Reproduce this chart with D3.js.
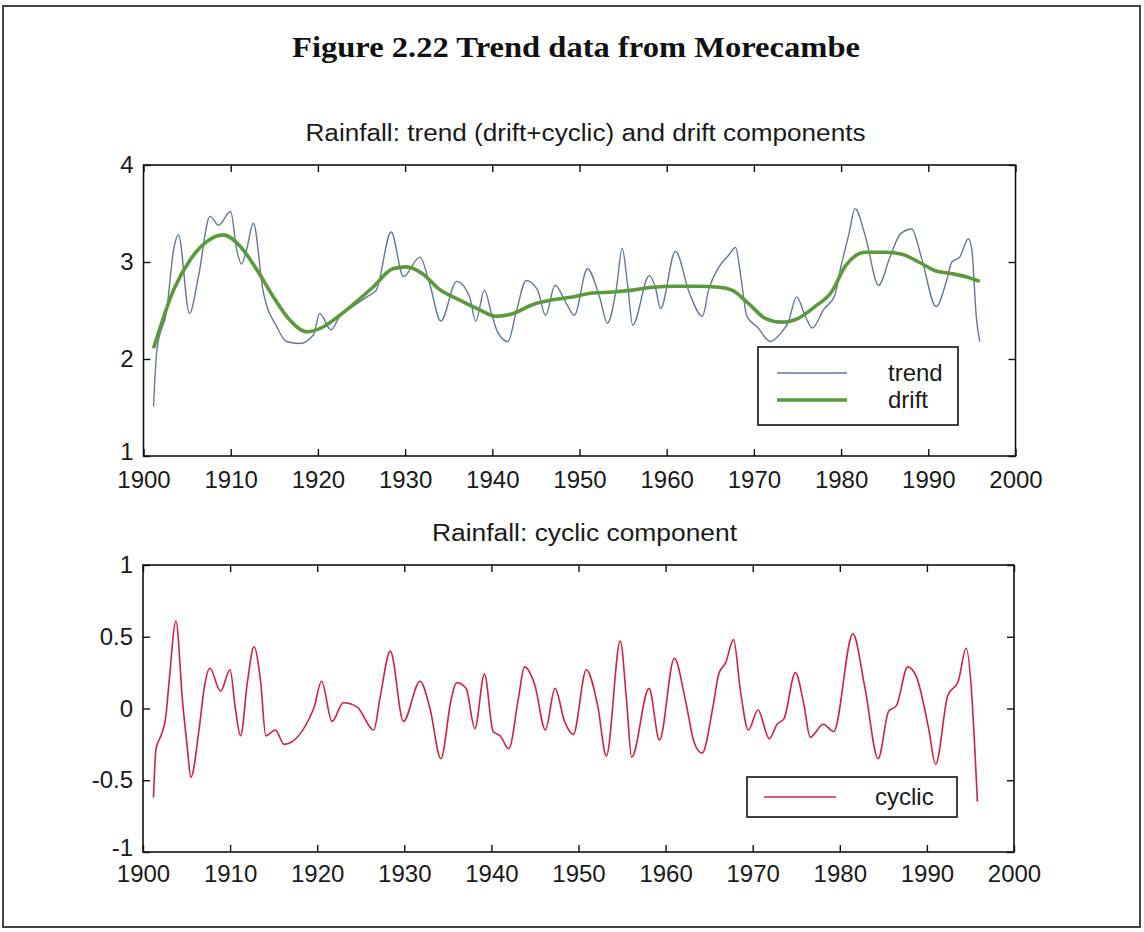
<!DOCTYPE html>
<html>
<head>
<meta charset="utf-8">
<script src="https://cdn.jsdelivr.net/npm/d3@7"></script>
<style>
  body { margin: 0; background: #fff; }
  svg { display: block; }
  .tick text { font-family: "Liberation Sans", Arial, sans-serif; font-size: 24px; fill: #1a1a1a; }
  .tick line { stroke: #111; stroke-width: 1.4; }
</style>
</head>
<body>
<div id="chart"></div>
<script>
var trendYears = [1901.15, 1901.53, 1902.67, 1903.44, 1904.01, 1905.27, 1906.3, 1907.63, 1908.6, 1909.99,
  1910.7, 1911.25, 1911.8, 1912.6, 1913.7, 1915.3, 1916.4, 1917.9, 1919.5, 1920.2,
  1921.5, 1922.5, 1924.0, 1925.6, 1926.7, 1928.4, 1929.8, 1931.7, 1932.8, 1934.1,
  1935.9, 1937.4, 1938.1, 1939.1, 1939.9, 1940.6, 1941.8, 1942.7, 1943.9, 1945.2,
  1946.1, 1947.2, 1948.5, 1949.4, 1950.9, 1952.3, 1953.2, 1954.2, 1954.9, 1955.5,
  1956.1, 1958.0, 1958.7, 1959.3, 1961.0, 1962.6, 1964.1, 1964.8, 1966.0, 1967.1,
  1967.9, 1968.5, 1969.2, 1970.4, 1971.9, 1973.2, 1973.9, 1974.9, 1975.9, 1976.7,
  1978.0, 1979.3, 1979.9, 1980.9, 1981.6, 1982.8, 1984.3, 1985.6, 1986.8, 1988.1,
  1989.2, 1990.9, 1992.1, 1992.7, 1993.6, 1994.6, 1995.0, 1995.5, 1995.9];
var trendValues = [1.51, 2.09, 2.51, 3.12, 3.28, 2.47, 2.85, 3.47, 3.38, 3.52,
  3.12, 2.98, 3.12, 3.40, 2.71, 2.33, 2.18, 2.16, 2.25, 2.47,
  2.30, 2.44, 2.54, 2.64, 2.71, 3.31, 2.85, 3.05, 2.78, 2.39,
  2.80, 2.64, 2.39, 2.71, 2.47, 2.28, 2.18, 2.47, 2.81, 2.71,
  2.45, 2.76, 2.57, 2.45, 2.93, 2.64, 2.37, 2.71, 3.14, 2.78,
  2.35, 2.86, 2.74, 2.52, 3.11, 2.68, 2.44, 2.71, 2.95, 3.07,
  3.15, 2.85, 2.44, 2.33, 2.18, 2.28, 2.37, 2.64, 2.44, 2.32,
  2.51, 2.66, 2.92, 3.29, 3.55, 3.26, 2.76, 3.05, 3.29, 3.34,
  3.05, 2.54, 2.81, 3.00, 3.05, 3.24, 3.12, 2.44, 2.18];

var driftYears = [1901.15, 1903.44, 1905.34, 1907.25, 1909.16, 1911.1, 1913.0, 1914.9, 1916.8, 1918.7,
  1920.6, 1922.5, 1924.4, 1926.3, 1928.6, 1930.1, 1932.0, 1933.9, 1936.2, 1938.5,
  1940.4, 1942.4, 1944.6, 1946.9, 1949.2, 1951.5, 1953.8, 1956.1, 1958.4, 1961.0,
  1963.3, 1966.0, 1967.5, 1969.4, 1971.3, 1973.2, 1975.1, 1977.0, 1978.9, 1980.5,
  1982.8, 1985.1, 1987.0, 1988.9, 1990.8, 1992.7, 1994.2, 1995.9];
var driftValues = [2.11, 2.71, 3.02, 3.21, 3.28, 3.16, 2.92, 2.64, 2.40, 2.28,
  2.33, 2.45, 2.59, 2.74, 2.93, 2.95, 2.88, 2.72, 2.61, 2.51,
  2.44, 2.47, 2.56, 2.61, 2.64, 2.68, 2.69, 2.71, 2.74, 2.75,
  2.75, 2.74, 2.71, 2.57, 2.42, 2.38, 2.42, 2.54, 2.69, 2.96,
  3.10, 3.10, 3.08, 3.00, 2.91, 2.88, 2.85, 2.80];

var cyclicYears = [1901.2, 1901.5, 1902.06, 1902.63, 1903.0, 1903.78, 1904.54, 1905.1, 1905.49, 1906.45,
  1907.02, 1907.67, 1908.9, 1910.0, 1910.6, 1911.2, 1912.0, 1912.74, 1913.5, 1914.1,
  1915.2, 1916.2, 1919.6, 1920.5, 1921.7, 1923.0, 1924.6, 1926.5, 1927.2, 1928.4,
  1929.9, 1931.8, 1932.95, 1934.2, 1935.4, 1936.0, 1937.1, 1938.1, 1939.2, 1940.2,
  1941.0, 1942.0, 1943.1, 1943.8, 1945.0, 1946.2, 1947.3, 1948.4, 1949.4, 1950.9,
  1952.2, 1953.2, 1954.8, 1955.5, 1956.1, 1958.1, 1959.3, 1961.0, 1962.3, 1963.3,
  1964.2, 1965.4, 1966.1, 1966.9, 1967.8, 1968.6, 1969.5, 1970.6, 1971.9, 1972.8,
  1973.6, 1974.9, 1975.9, 1976.6, 1978.1, 1979.3, 1981.5, 1982.9, 1984.4, 1985.6,
  1986.5, 1987.8, 1988.8, 1990.2, 1991.0, 1992.4, 1993.6, 1994.5, 1995.2, 1995.5,
  1995.8];
var cyclicValues = [-0.62, -0.28, -0.19, -0.05, 0.19, 0.61, 0.05, -0.28, -0.48, -0.14,
  0.14, 0.28, 0.12, 0.27, 0.0, -0.19, 0.19, 0.43, 0.19, -0.19,
  -0.15, -0.25, 0.0, 0.19, -0.09, 0.04, 0.01, -0.15, 0.07, 0.40,
  -0.09, 0.19, 0.0, -0.35, 0.07, 0.18, 0.14, -0.14, 0.24, -0.16,
  -0.19, -0.28, 0.07, 0.29, 0.16, -0.15, 0.14, -0.09, -0.18, 0.27,
  0.02, -0.33, 0.47, 0.07, -0.34, 0.14, -0.22, 0.35, 0.05, -0.24,
  -0.31, 0.0, 0.24, 0.32, 0.48, 0.12, -0.15, -0.01, -0.21, -0.11,
  -0.07, 0.25, 0.02, -0.20, -0.11, -0.16, 0.52, 0.14, -0.35, -0.02,
  0.02, 0.29, 0.22, -0.14, -0.39, 0.09, 0.19, 0.42, 0.05, -0.28,
  -0.65];

var yearTicks = [1900, 1910, 1920, 1930, 1940, 1950, 1960, 1970, 1980, 1990, 2000];
var topTicks = [1, 2, 3, 4];
var bottomTicks = [-1, -0.5, 0, 0.5, 1];

var width = 1144, height = 932;
var font = '"Liberation Sans", Arial, sans-serif';

var svg = d3.select("#chart").append("svg")
  .attr("width", width)
  .attr("height", height);

// outer frame of the scanned figure
svg.append("rect")
  .attr("x", 3).attr("y", 6)
  .attr("width", 1137).attr("height", 921)
  .attr("fill", "none").attr("stroke", "#444").attr("stroke-width", 2);

svg.append("text")
  .attr("x", 576).attr("y", 57)
  .attr("text-anchor", "middle")
  .attr("textLength", 568).attr("lengthAdjust", "spacingAndGlyphs")
  .style("font-family", '"Liberation Serif", "Times New Roman", serif')
  .style("font-weight", "bold").style("font-size", "29px").style("fill", "#111")
  .text("Figure 2.22 Trend data from Morecambe");

function drawPanel(box, yDomain, yTicks, title) {
  var x = d3.scaleLinear().domain([1900, 2000]).range([box.left, box.right]);
  var y = d3.scaleLinear().domain(yDomain).range([box.bottom, box.top]);

  svg.append("text")
    .attr("x", (box.left + box.right) / 2 + 6).attr("y", box.top - 24)
    .attr("text-anchor", "middle")
    .attr("textLength", title.len).attr("lengthAdjust", "spacingAndGlyphs")
    .style("font-family", font).style("font-size", "23px").style("fill", "#1a1a1a")
    .text(title.text);

  svg.append("rect")
    .attr("x", box.left).attr("y", box.top)
    .attr("width", box.right - box.left).attr("height", box.bottom - box.top)
    .attr("fill", "#fff").attr("stroke", "#111").attr("stroke-width", 1.6);

  // ticks point inward on all four sides
  svg.append("g")
    .attr("transform", "translate(0," + box.bottom + ")")
    .call(d3.axisBottom(x).tickValues(yearTicks).tickFormat(d3.format("d"))
      .tickSizeInner(-7).tickSizeOuter(0).tickPadding(box.pad))
    .call(function (g) { g.select(".domain").remove(); });
  svg.append("g")
    .attr("transform", "translate(0," + box.top + ")")
    .call(d3.axisTop(x).tickValues(yearTicks).tickFormat("")
      .tickSizeInner(-7).tickSizeOuter(0))
    .call(function (g) { g.select(".domain").remove(); });
  svg.append("g")
    .attr("transform", "translate(" + box.left + ",0)")
    .call(d3.axisLeft(y).tickValues(yTicks).tickFormat(function (d) { return String(d); })
      .tickSizeInner(-7).tickSizeOuter(0).tickPadding(10))
    .call(function (g) { g.select(".domain").remove(); })
    // the lowest label sits a little above its tick, clear of the year labels
    .call(function (g) {
      g.selectAll(".tick text").filter(function (d) { return d === yDomain[0]; })
        .attr("y", -4);
    });
  svg.append("g")
    .attr("transform", "translate(" + box.right + ",0)")
    .call(d3.axisRight(y).tickValues(yTicks).tickFormat("")
      .tickSizeInner(-7).tickSizeOuter(0))
    .call(function (g) { g.select(".domain").remove(); });

  return { x: x, y: y };
}

function series(xs, ys) {
  return xs.map(function (d, i) { return { x: d, y: ys[i] }; });
}

function legend(box, rows) {
  svg.append("rect")
    .attr("x", box.x).attr("y", box.y)
    .attr("width", box.w).attr("height", box.h)
    .attr("fill", "#fff").attr("stroke", "#111").attr("stroke-width", 1.6);
  rows.forEach(function (r, i) {
    var cy = box.y + box.first + i * box.step;
    svg.append("line")
      .attr("x1", box.x + box.lx1).attr("x2", box.x + box.lx2)
      .attr("y1", cy).attr("y2", cy)
      .attr("stroke", r.color).attr("stroke-width", r.width);
    svg.append("text")
      .attr("x", box.x + box.tx).attr("y", cy + 8)
      .style("font-family", font).style("font-size", "24px").style("fill", "#1a1a1a")
      .text(r.label);
  });
}

// top panel: trend and drift
var topPanel = drawPanel({ left: 143.5, right: 1015.5, top: 165, bottom: 456, pad: 15 }, [1, 4], topTicks,
  { text: "Rainfall: trend (drift+cyclic) and drift components", len: 560 });

var lineTop = d3.line()
  .x(function (d) { return topPanel.x(d.x); })
  .y(function (d) { return topPanel.y(d.y); })
  .curve(d3.curveMonotoneX);

svg.append("path")
  .datum(series(trendYears, trendValues))
  .attr("fill", "none").attr("stroke", "#62789a").attr("stroke-width", 1.4)
  .attr("d", lineTop);
svg.append("path")
  .datum(series(driftYears, driftValues))
  .attr("fill", "none").attr("stroke", "#5b9a3c").attr("stroke-width", 3.6)
  .attr("d", lineTop);

legend({ x: 758, y: 347, w: 200, h: 78, first: 26, step: 27, lx1: 19, lx2: 89, tx: 130 }, [
  { label: "trend", color: "#62789a", width: 1.4 },
  { label: "drift", color: "#5b9a3c", width: 3.6 }
]);

// bottom panel: cyclic component
var botPanel = drawPanel({ left: 143, right: 1014, top: 565, bottom: 852, pad: 13 }, [-1, 1], bottomTicks,
  { text: "Rainfall: cyclic component", len: 305 });

var lineBot = d3.line()
  .x(function (d) { return botPanel.x(d.x); })
  .y(function (d) { return botPanel.y(d.y); })
  .curve(d3.curveMonotoneX);

svg.append("path")
  .datum(series(cyclicYears, cyclicValues))
  .attr("fill", "none").attr("stroke", "#d3203f").attr("stroke-width", 1.6)
  .attr("d", lineBot);

legend({ x: 747, y: 777, w: 210, h: 40, first: 20, step: 0, lx1: 17, lx2: 89, tx: 128 }, [
  { label: "cyclic", color: "#d3203f", width: 1.6 }
]);
</script>
</body>
</html>
